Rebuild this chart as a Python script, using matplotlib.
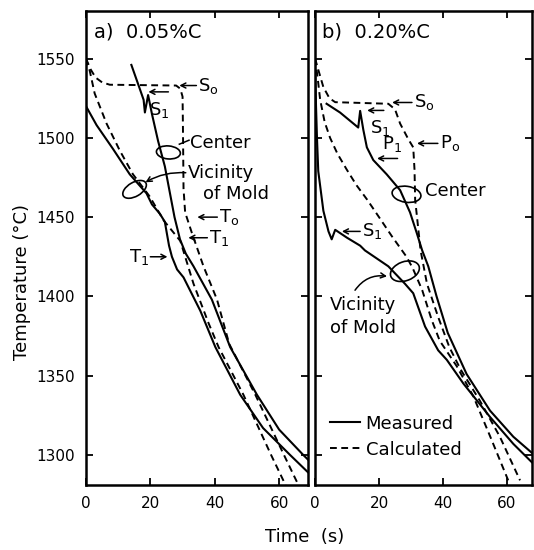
import matplotlib.pyplot as plt
from matplotlib.patches import Ellipse
from matplotlib.lines import Line2D
from matplotlib.transforms import ScaledTranslation

plt.rcParams['font.family'] = ['DejaVu Sans']

# ---- a) 0.05%C ----
a_mold_meas_t = [0, 3.3, 8.4, 13.6, 18.8, 20.5, 23.0, 24.5, 25.1, 25.8, 26.7, 28.3, 30.3, 35.5, 40.2, 47.9, 55.0, 63.4, 69.0]
a_mold_meas_T = [1520, 1508, 1493, 1477, 1465, 1458, 1452, 1447, 1440, 1432, 1425, 1417, 1412, 1391, 1368, 1338, 1317, 1300, 1289]

a_mold_calc_t = [0, 1.2, 2.7, 6.4, 10.5, 14.6, 19.8, 24.1, 29.3, 33.4, 38.1, 41.2, 48.9, 57.5, 62.0]
a_mold_calc_T = [1550, 1542, 1528, 1509, 1492, 1477, 1463, 1448, 1435, 1408, 1383, 1368, 1338, 1300, 1281]

a_cent_meas_t = [14.1, 16.7, 17.9, 18.3, 19.3, 20.5, 22.4, 24.5, 26.0, 27.5, 29.2, 31.0, 33.4, 39.1, 44.8, 53.1, 60.0, 67.5, 69.0]
a_cent_meas_T = [1546, 1531, 1524, 1516, 1527, 1515, 1498, 1482, 1466, 1450, 1436, 1427, 1419, 1398, 1368, 1338, 1316, 1300, 1297]

a_cent_calc_t = [0, 1.5, 3.0, 5.0, 7.4, 28.0, 29.3, 30.0, 30.1, 30.2, 30.3, 30.8, 32.9, 36.5, 40.7, 44.5, 52.6, 61.5, 66.0]
a_cent_calc_T = [1550, 1543, 1538, 1535, 1533.5, 1533, 1531, 1526, 1510, 1490, 1468, 1453, 1440, 1419, 1398, 1370, 1338, 1300, 1281]

# ---- b) 0.20%C ----
b_mold_meas_t = [0, 0.3, 0.6, 1.0, 2.6, 4.2, 5.2, 6.3, 10.0, 14.1, 15.6, 22.9, 28.1, 30.7, 34.4, 38.5, 41.2, 46.4, 54.7, 62.0, 68.0]
b_mold_meas_T = [1545, 1520, 1500, 1479, 1454, 1441, 1436, 1442, 1437, 1432, 1429, 1419, 1408, 1402, 1381, 1366, 1360, 1345, 1324, 1307, 1295]

b_mold_calc_t = [0, 0.8, 1.6, 3.0, 4.7, 7.0, 9.9, 13.0, 16.3, 20.0, 24.0, 28.6, 30.5, 33.5, 36.5, 39.0, 44.3, 49.5, 54.7, 60.4]
b_mold_calc_T = [1550, 1538, 1524, 1510, 1500, 1490, 1480, 1470, 1461, 1450, 1438, 1425, 1418, 1404, 1385, 1372, 1356, 1337, 1312, 1284]

b_cent_meas_t = [3.6, 7.8, 12.0, 13.5, 14.1, 15.1, 16.2, 18.2, 22.4, 26.6, 29.7, 31.8, 33.5, 35.4, 38.0, 41.5, 47.4, 54.7, 62.0, 68.0]
b_cent_meas_T = [1521.5, 1516, 1509, 1506.5, 1517, 1505, 1494, 1486, 1477, 1467, 1453, 1440, 1429, 1419, 1400, 1377, 1351, 1328, 1311.5, 1301]

b_cent_calc_t = [0, 1.0, 2.6, 4.5, 6.3, 22.9, 25.0, 26.6, 29.2, 30.7, 31.1, 31.3, 33.0, 35.0, 38.5, 42.0, 45.5, 51.6, 57.8, 64.1]
b_cent_calc_T = [1550, 1543, 1532, 1525, 1522.5, 1521.5, 1518, 1509, 1499, 1494, 1480, 1461, 1429, 1408, 1387, 1368, 1354, 1334, 1311.5, 1284]

yticks = [1300, 1350, 1400, 1450, 1500, 1550]
xticks = [0, 20, 40, 60]

fig = plt.figure(figsize=(5.34, 5.5), dpi=100)
ax_a = fig.add_axes([0.161, 0.118, 0.416, 0.862])
ax_b = fig.add_axes([0.590, 0.118, 0.406, 0.862])

sol = dict(color='black', lw=1.5, linestyle='-')
das = dict(color='black', lw=1.4, linestyle=(0, (3.5, 2.3)))

ax_a.plot(a_mold_meas_t, a_mold_meas_T, **sol)
ax_a.plot(a_cent_meas_t, a_cent_meas_T, **sol)
ax_a.plot(a_mold_calc_t, a_mold_calc_T, **das)
ax_a.plot(a_cent_calc_t, a_cent_calc_T, **das)

ax_b.plot(b_mold_meas_t, b_mold_meas_T, **sol)
ax_b.plot(b_cent_meas_t, b_cent_meas_T, **sol)
ax_b.plot(b_mold_calc_t, b_mold_calc_T, **das)
ax_b.plot(b_cent_calc_t, b_cent_calc_T, **das)

for ax, xmax in [(ax_a, 69), (ax_b, 67.8)]:
    ax.set_xlim(0, xmax)
    ax.set_ylim(1281, 1580)
    ax.set_xticks(xticks)
    ax.set_yticks(yticks)
    ax.tick_params(direction='in', length=5, width=1.3, top=True, right=True,
                   labelsize=11, pad=8)
    for s in ax.spines.values():
        s.set_linewidth(1.8)
ax_b.tick_params(labelleft=False)

fs = 13
arr = dict(arrowstyle='->,head_length=0.35,head_width=0.18', lw=1.1, color='black')


def arrow(ax, tip, tail, rad=0.0):
    ax.annotate('', xy=tip, xytext=tail,
                arrowprops=dict(connectionstyle='arc3,rad=%s' % rad, shrinkA=0, shrinkB=0, **arr))


def ellipse(ax, t, T, w, h, ang):
    tr = fig.dpi_scale_trans + ScaledTranslation(t, T, ax.transData)
    ax.add_patch(Ellipse((0, 0), w / 100, h / 100, angle=ang, transform=tr,
                         fill=False, lw=1.2, color='black'))


# panel a labels
ax_a.text(0.035, 0.955, 'a)  0.05%C', transform=ax_a.transAxes, fontsize=14, va='center')
arrow(ax_a, (29.0, 1533), (34.3, 1533))
ax_a.text(34.9, 1533, 'S$_\\mathregular{o}$', fontsize=fs, va='center')
arrow(ax_a, (19.4, 1529), (25.6, 1529))
ax_a.text(22.8, 1517.5, 'S$_\\mathregular{1}$', fontsize=fs, va='center', ha='center')
ellipse(ax_a, 25.6, 1490.8, 24, 13, -5)
ax_a.plot([29.0, 32.0], [1496, 1498.5], color='black', lw=1.1)
ax_a.text(32.4, 1497, 'Center', fontsize=fs, va='center')
ellipse(ax_a, 15.1, 1467.5, 26, 14, 30)
arrow(ax_a, (18.5, 1472), (31.0, 1478), rad=0.15)
ax_a.text(31.5, 1478, 'Vicinity', fontsize=fs, va='center')
ax_a.text(36.4, 1464.5, 'of Mold', fontsize=fs, va='center')
arrow(ax_a, (34.6, 1450), (40.8, 1450))
ax_a.text(41.4, 1450, 'T$_\\mathregular{o}$', fontsize=fs, va='center')
arrow(ax_a, (31.8, 1437), (37.7, 1437))
ax_a.text(38.3, 1437, 'T$_\\mathregular{1}$', fontsize=fs, va='center')
arrow(ax_a, (25.3, 1425), (20.0, 1425))
ax_a.text(19.6, 1425, 'T$_\\mathregular{1}$', fontsize=fs, va='center', ha='right')

# panel b labels
ax_b.text(0.032, 0.955, 'b)  0.20%C', transform=ax_b.transAxes, fontsize=14, va='center')
arrow(ax_b, (24.1, 1522.3), (30.3, 1522.3))
ax_b.text(30.9, 1522.3, 'S$_\\mathregular{o}$', fontsize=fs, va='center')
arrow(ax_b, (16.3, 1517.3), (21.5, 1517.3))
ax_b.text(20.3, 1506.5, 'S$_\\mathregular{1}$', fontsize=fs, va='center', ha='center')
ax_b.text(24.0, 1496, 'P$_\\mathregular{1}$', fontsize=fs, va='center', ha='center')
arrow(ax_b, (19.4, 1487), (25.8, 1487))
arrow(ax_b, (31.9, 1496.5), (38.4, 1496.5))
ax_b.text(39.0, 1496.5, 'P$_\\mathregular{o}$', fontsize=fs, va='center')
ellipse(ax_b, 28.6, 1464.4, 29, 16, -8)
ax_b.text(34.4, 1466.5, 'Center', fontsize=fs, va='center')
arrow(ax_b, (8.4, 1441), (14.1, 1441))
ax_b.text(14.7, 1441, 'S$_\\mathregular{1}$', fontsize=fs, va='center')
ellipse(ax_b, 28.1, 1415.9, 30, 19, 20)
arrow(ax_b, (22.5, 1412.7), (12.5, 1403.9), rad=-0.3)
ax_b.text(4.7, 1394.5, 'Vicinity', fontsize=fs, va='center')
ax_b.text(4.7, 1380, 'of Mold', fontsize=fs, va='center')

handles = [Line2D([], [], **sol), Line2D([], [], **das)]
ax_b.legend(handles, ['Measured', 'Calculated'], loc='lower left', bbox_to_anchor=(0.0, 0.025),
            frameon=False, fontsize=fs, handlelength=1.7, handletextpad=0.3,
            labelspacing=0.45, borderpad=0.3)

fig.text(0.571, 0.024, 'Time  (s)', fontsize=13, ha='center', va='center')
fig.text(0.041, 0.487, 'Temperature (°C)', fontsize=13, ha='center', va='center', rotation=90)

fig.savefig('out.png', dpi=100)
